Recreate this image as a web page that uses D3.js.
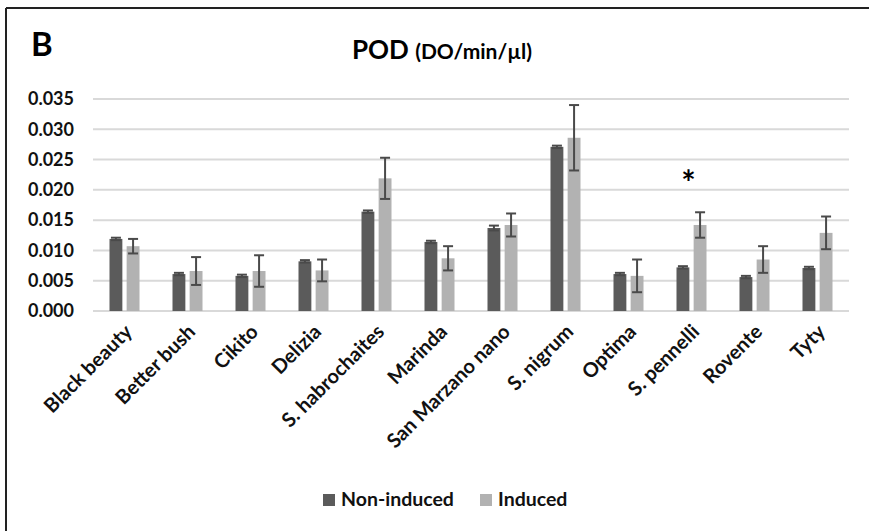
<!DOCTYPE html>
<html>
<head>
<meta charset="utf-8">
<script src="https://cdn.jsdelivr.net/npm/d3@7"></script>
<style>
  body { margin: 0; background: #fff; }
  text { font-family: Lato, "Open Sans", sans-serif; }
</style>
</head>
<body>
<svg width="869" height="531"></svg>
<script>
// POD activity per cultivar
var categories = ["Black beauty", "Better bush", "Cikito", "Delizia", "S. habrochaites", "Marinda",
  "San Marzano nano", "S. nigrum", "Optima", "S. pennelli", "Rovente", "Tyty"];
var seriesNames = ["Non-induced", "Induced"];
var nonInduced = [0.0119, 0.0061, 0.0058, 0.0082, 0.0164, 0.0114, 0.0137, 0.0271, 0.0061, 0.0072, 0.0056, 0.0071];
var nonInducedErr = [0.0002, 0.0002, 0.0002, 0.0002, 0.0002, 0.0002, 0.0004, 0.0002, 0.0002, 0.0002, 0.0002, 0.0002];
var induced = [0.0107, 0.0066, 0.0066, 0.0067, 0.0219, 0.0087, 0.0142, 0.0286, 0.0058, 0.0142, 0.0085, 0.0129];
var inducedErr = [0.0012, 0.0023, 0.0026, 0.0018, 0.0034, 0.0020, 0.0019, 0.0054, 0.0027, 0.0021, 0.0022, 0.0027];
var yTicks = [0, 0.005, 0.010, 0.015, 0.020, 0.025, 0.030, 0.035];
var starred = ["S. pennelli"];

var svg = d3.select("svg");
var colors = {"Non-induced": "#5b5b5b", "Induced": "#b2b2b2"};

// frame (only top and left edges are visible)
svg.append("line").attr("x1", 6).attr("x2", 869).attr("y1", 8).attr("y2", 8)
  .attr("stroke", "#222").attr("stroke-width", 2);
svg.append("line").attr("x1", 6).attr("x2", 6).attr("y1", 8).attr("y2", 531)
  .attr("stroke", "#222").attr("stroke-width", 2);

svg.append("text").attr("x", 31).attr("y", 56)
  .attr("font-size", 33).attr("font-weight", "bold").text("B");

var title = svg.append("text").attr("x", 442).attr("y", 59)
  .attr("text-anchor", "middle").attr("font-weight", "bold");
title.append("tspan").attr("font-size", 26).text("POD ");
title.append("tspan").attr("font-size", 21).text("(DO/min/µl)");

var x0 = d3.scaleBand().domain(categories).range([93, 849]);
var bw = x0.bandwidth();
var x1 = d3.scaleBand().domain(seriesNames).range([bw / 2 - 15, bw / 2 + 15]).paddingInner(0.25);
var y = d3.scaleLinear().domain([0, 0.035]).range([311, 99]);

// gridlines
svg.append("g").selectAll("line")
  .data(yTicks)
  .enter().append("line")
  .attr("x1", 93).attr("x2", 849)
  .attr("y1", function (d) { return y(d); })
  .attr("y2", function (d) { return y(d); })
  .attr("stroke", "#d9d9d9").attr("stroke-width", 2);

// y axis labels
var yAxis = svg.append("g").attr("transform", "translate(74,0)")
  .call(d3.axisLeft(y).tickValues(yTicks).tickFormat(d3.format(".3f")).tickSize(0).tickPadding(0));
yAxis.select(".domain").remove();
yAxis.selectAll("text").attr("font-size", 18).attr("font-weight", "bold")
  .attr("fill", "#111").style("font-family", "Lato, sans-serif");

var rows = categories.map(function (c, i) {
  return [
    {cat: c, s: "Non-induced", v: nonInduced[i], e: nonInducedErr[i]},
    {cat: c, s: "Induced", v: induced[i], e: inducedErr[i]}
  ];
});

var groups = svg.append("g").selectAll("g")
  .data(rows)
  .enter().append("g")
  .attr("transform", function (d) { return "translate(" + x0(d[0].cat) + ",0)"; });

groups.selectAll("rect")
  .data(function (d) { return d; })
  .enter().append("rect")
  .attr("x", function (d) { return x1(d.s); })
  .attr("width", x1.bandwidth())
  .attr("y", function (d) { return y(d.v); })
  .attr("height", function (d) { return y(0) - y(d.v); })
  .attr("fill", function (d) { return colors[d.s]; });

// error bars
var err = groups.selectAll("g.err")
  .data(function (d) { return d; })
  .enter().append("g").attr("class", "err")
  .attr("stroke", "#4a4a4a").attr("stroke-width", 2);
err.append("line")
  .attr("x1", function (d) { return x1(d.s) + x1.bandwidth() / 2; })
  .attr("x2", function (d) { return x1(d.s) + x1.bandwidth() / 2; })
  .attr("y1", function (d) { return y(d.v + d.e); })
  .attr("y2", function (d) { return y(d.v - d.e); });
err.selectAll("line.cap")
  .data(function (d) { return [d.v + d.e, d.v - d.e].map(function (v) { return {s: d.s, v: v}; }); })
  .enter().append("line").attr("class", "cap")
  .attr("x1", function (d) { return x1(d.s) + x1.bandwidth() / 2 - 5; })
  .attr("x2", function (d) { return x1(d.s) + x1.bandwidth() / 2 + 5; })
  .attr("y1", function (d) { return y(d.v); })
  .attr("y2", function (d) { return y(d.v); });

// significance star
svg.append("g").selectAll("text")
  .data(starred)
  .enter().append("text")
  .attr("x", function (d) { return x0(d) + bw / 2 - 3; })
  .attr("y", 195)
  .attr("text-anchor", "middle")
  .attr("font-size", 34).attr("font-weight", "bold")
  .text("*");

// x labels
svg.append("g").selectAll("text")
  .data(categories)
  .enter().append("text")
  .attr("transform", function (d) {
    return "translate(" + (x0(d) + bw / 2 + 9) + ",333) rotate(-45)";
  })
  .attr("text-anchor", "end")
  .attr("font-size", 20).attr("font-weight", "bold").attr("fill", "#111")
  .text(function (d) { return d; });

// legend
var legend = svg.append("g").attr("transform", "translate(323,494)");
var item = legend.selectAll("g")
  .data(seriesNames)
  .enter().append("g")
  .attr("transform", function (d, i) { return "translate(" + (i * 157) + ",0)"; });
item.append("rect").attr("width", 12).attr("height", 12)
  .attr("fill", function (d) { return colors[d]; });
item.append("text").attr("x", 18).attr("y", 12)
  .attr("font-size", 19.5).attr("font-weight", "bold").attr("fill", "#111")
  .text(function (d) { return d; });
</script>
</body>
</html>
